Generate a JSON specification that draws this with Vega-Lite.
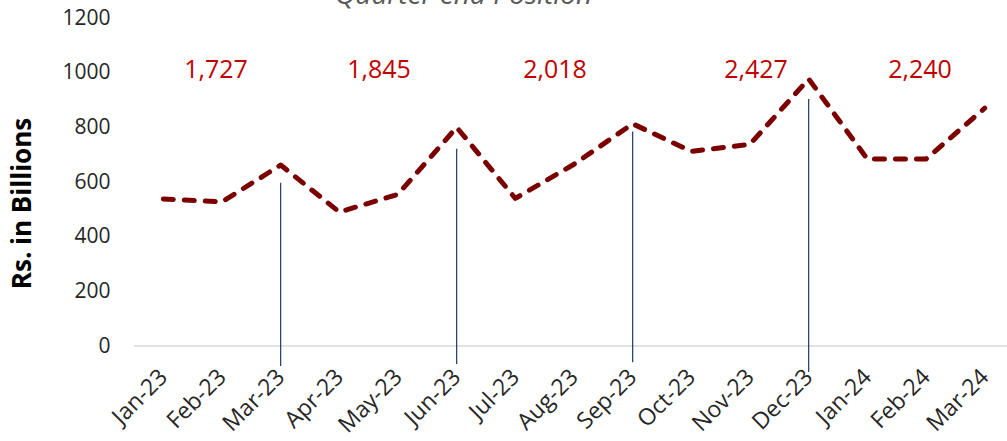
{
  "$schema": "https://vega.github.io/schema/vega-lite/v6.json",
  "autosize": "none",
  "width": 873,
  "height": 328,
  "padding": {"left": 134, "top": 18, "right": 0, "bottom": 95},
  "background": "white",
  "config": {"view": {"stroke": null}, "font": "Open Sans"},
  "datasets": {
    "monthly": [
      {"month": "Jan-23", "value": 538},
      {"month": "Feb-23", "value": 527},
      {"month": "Mar-23", "value": 662},
      {"month": "Apr-23", "value": 490},
      {"month": "May-23", "value": 555},
      {"month": "Jun-23", "value": 800},
      {"month": "Jul-23", "value": 540},
      {"month": "Aug-23", "value": 665},
      {"month": "Sep-23", "value": 813},
      {"month": "Oct-23", "value": 712},
      {"month": "Nov-23", "value": 738},
      {"month": "Dec-23", "value": 977},
      {"month": "Jan-24", "value": 684},
      {"month": "Feb-24", "value": 684},
      {"month": "Mar-24", "value": 870}
    ],
    "quarters": [
      {"month": "Mar-23", "value": 597, "bottom": -73},
      {"month": "Jun-23", "value": 722, "bottom": -66},
      {"month": "Sep-23", "value": 785, "bottom": -59},
      {"month": "Dec-23", "value": 904, "bottom": -95}
    ],
    "totals": [
      {"month": "Feb-23", "value": 1010, "label": "1,727", "group": "b"},
      {"month": "May-23", "value": 1010, "label": "1,845", "group": "a"},
      {"month": "Aug-23", "value": 1010, "label": "2,018", "group": "a"},
      {"month": "Nov-23", "value": 1010, "label": "2,427", "group": "c"},
      {"month": "Feb-24", "value": 1010, "label": "2,240", "group": "b"}
    ],
    "heading": [{"month": "Jun-23", "value": 1250, "label": "Quarter end Position"}],
    "baseline": [{"value": 0}]
  },
  "encoding": {
    "x": {
      "field": "month", "type": "ordinal",
      "sort": ["Jan-23","Feb-23","Mar-23","Apr-23","May-23","Jun-23","Jul-23","Aug-23","Sep-23","Oct-23","Nov-23","Dec-23","Jan-24","Feb-24","Mar-24"],
      "scale": {"type": "point", "range": [29.33, 850.67], "padding": 0},
      "axis": {"title": null, "domain": false, "ticks": false, "grid": false, "labelAngle": -45, "labelAlign": "right", "labelBaseline": "middle", "labelPadding": 27, "labelFontSize": 23, "labelColor": "#262626", "labelFont": "Open Sans"}
    },
    "y": {
      "field": "value", "type": "quantitative",
      "scale": {"domain": [0, 1200], "nice": false, "zero": true},
      "axis": {"title": "Rs. in Billions", "format": "d", "values": [0, 200, 400, 600, 800, 1000, 1200], "grid": false, "domain": false, "ticks": false, "labelPadding": 24, "labelFontSize": 21, "labelColor": "#262626", "labelFont": "Open Sans", "titleFont": "Open Sans", "titleFontSize": 26, "titleFontWeight": "bold", "titleColor": "#000000", "titleAngle": -90, "titleX": -112, "titleY": 185, "titleAlign": "center", "titleBaseline": "middle"}
    }
  },
  "layer": [
    {
      "data": {"name": "baseline"},
      "mark": {"type": "rule", "color": "#D9D9D9", "strokeWidth": 1.5},
      "encoding": {"x": null}
    },
    {
      "data": {"name": "quarters"},
      "mark": {"type": "rule", "color": "#1F3864", "strokeWidth": 1.2},
      "encoding": {"y2": {"field": "bottom"}}
    },
    {
      "data": {"name": "monthly"},
      "mark": {"type": "line", "color": "#7B0000", "strokeWidth": 5, "strokeDash": [10, 11], "strokeCap": "round", "strokeJoin": "round"}
    },
    {
      "data": {"name": "heading"},
      "mark": {"type": "text", "color": "#595959", "fontSize": 28, "fontStyle": "italic", "font": "Open Sans", "dx": 7, "baseline": "alphabetic", "align": "center"},
      "encoding": {"text": {"field": "label"}}
    },
    {
      "data": {"name": "totals"},
      "transform": [{"filter": "datum.group == 'a'"}],
      "mark": {"type": "text", "color": "#C00000", "fontSize": 25, "font": "Open Sans", "dx": -19, "baseline": "middle", "align": "center"},
      "encoding": {"text": {"field": "label"}}
    },
    {
      "data": {"name": "totals"},
      "transform": [{"filter": "datum.group == 'b'"}],
      "mark": {"type": "text", "color": "#C00000", "fontSize": 25, "font": "Open Sans", "dx": -6, "baseline": "middle", "align": "center"},
      "encoding": {"text": {"field": "label"}}
    },
    {
      "data": {"name": "totals"},
      "transform": [{"filter": "datum.group == 'c'"}],
      "mark": {"type": "text", "color": "#C00000", "fontSize": 25, "font": "Open Sans", "dx": 6, "baseline": "middle", "align": "center"},
      "encoding": {"text": {"field": "label"}}
    }
  ]
}
